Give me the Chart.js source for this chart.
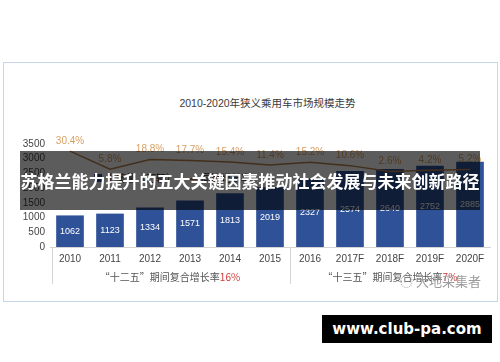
<!DOCTYPE html>
<html>
<head>
<meta charset="utf-8">
<script src="https://cdn.jsdelivr.net/npm/chart.js@4"></script>
<style>
  html, body { margin: 0; padding: 0; background: #fff; }
  body { width: 500px; height: 362px; position: relative; overflow: hidden;
         font-family: 'Liberation Sans', 'Noto Sans CJK SC', sans-serif; }
  #frame { position: absolute; left: 3px; top: 62px; width: 493px; height: 238px;
           border: 1.5px solid #c8d6ea; }
  #wrap { position: absolute; left: 0; top: 0; width: 500px; height: 362px; }
  #titulo { position: absolute; top: 95px; left: 0; width: 535px; text-align: center;
            font-size: 10.5px; color: #3a3a3a; }
  .leyenda { position: absolute; top: 170px; font-size: 10px; color: #333; }
  #banda { position: absolute; left: 20px; top: 151px; width: 460px; height: 59px;
           background: rgba(0,0,0,0.64); color: #fff; font-weight: bold;
           font-family: 'Noto Sans CJK SC', sans-serif; font-size: 17px;
           line-height: 59px; text-align: center; white-space: nowrap; }
  #marca { position: absolute; left: 400px; top: 271px; font-size: 13px; color: #9a9a9a;
           font-family: 'Noto Sans CJK SC', sans-serif; }
  #web { position: absolute; left: 322px; top: 315px; width: 170px; height: 28px;
         background: #000; color: #fff; font-family: 'DejaVu Sans', sans-serif;
         font-weight: bold; font-size: 15px; line-height: 28px; text-align: center; }
</style>
</head>
<body>
<div id="frame"></div>
<div id="titulo">2010-2020年狭义乘用车市场规模走势</div>
<div class="leyenda" style="left:94px"><span style="display:inline-block;width:8px;height:8px;background:#2E5197;margin-right:4px"></span>上牌量（万辆）</div>
<div class="leyenda" style="left:183px"><span style="display:inline-block;width:14px;height:2px;background:#b8804a;vertical-align:middle;margin-right:4px"></span>同比增长率</div>
<div id="wrap"><canvas id="grafica" width="500" height="362"></canvas></div>
<div id="marca">◌ 大地采集者</div>
<div id="banda">苏格兰能力提升的五大关键因素推动社会发展与未来创新路径</div>
<div id="web">www.club-pa.com</div>
<script>
const anios = ["2010", "2011", "2012", "2013", "2014", "2015", "2016", "2017F", "2018F", "2019F", "2020F"];
const placas = [1062, 1123, 1334, 1571, 1813, 2019, 2327, 2574, 2640, 2752, 2885];
const crecimiento = [30.4, 5.8, 18.8, 17.7, 15.4, 11.4, 15.2, 10.6, 2.6, 4.2, 5.2];
const grupos = [
    { texto: "“十二五”期间复合增长率", tasa: "16%" },
    { texto: "“十三五”期间复合增长率", tasa: "7%" }
];

const fuente = "'Liberation Sans', 'Noto Sans CJK SC', sans-serif";

// etiquetas de barras y porcentajes
const etiquetas = {
    id: "etiquetas",
    afterDatasetsDraw(chart) {
        const ctx = chart.ctx;
        ctx.save();
        ctx.textAlign = "center";
        ctx.textBaseline = "middle";
        ctx.font = "9px " + fuente;
        ctx.fillStyle = "#ffffff";
        chart.getDatasetMeta(0).data.forEach((bar, i) => {
            ctx.fillText(placas[i], bar.x, (bar.y + bar.base) / 2);
        });
        ctx.font = "10px " + fuente;
        ctx.fillStyle = "#d9a064";
        chart.getDatasetMeta(1).data.forEach((p, i) => {
            ctx.fillText(crecimiento[i].toFixed(1) + "%", p.x, p.y - 10);
        });
        ctx.restore();
    }
};

// separadores y notas de los periodos
const periodos = {
    id: "periodos",
    afterDraw(chart) {
        const ctx = chart.ctx;
        const x = chart.scales.x;
        const area = chart.chartArea;
        ctx.save();
        ctx.strokeStyle = "#d4d4d4";
        ctx.lineWidth = 1;
        const corte = (x.getPixelForValue(5) + x.getPixelForValue(6)) / 2;
        [area.left + 2, corte].forEach(px => {
            ctx.beginPath();
            ctx.moveTo(Math.round(px) + 0.5, area.bottom);
            ctx.lineTo(Math.round(px) + 0.5, area.bottom + 37);
            ctx.stroke();
        });
        ctx.font = "10px 'Noto Sans CJK SC', sans-serif";
        ctx.textBaseline = "middle";
        grupos.forEach((g, k) => {
            const ini = k === 0 ? area.left : corte;
            const fin = k === 0 ? corte : area.right;
            const cx = (ini + fin) / 2;
            const w1 = ctx.measureText(g.texto).width;
            const w2 = ctx.measureText(g.tasa).width;
            const x0 = cx - (w1 + w2) / 2;
            ctx.textAlign = "left";
            ctx.fillStyle = "#555";
            ctx.fillText(g.texto, x0, area.bottom + 30);
            ctx.fillStyle = "#d23a3a";
            ctx.fillText(g.tasa, x0 + w1, area.bottom + 30);
        });
        ctx.restore();
    }
};

const ctx = document.getElementById("grafica").getContext("2d");
new Chart(ctx, {
    type: "bar",
    data: {
        labels: anios,
        datasets: [
            {
                label: "上牌量（万辆）",
                data: placas,
                backgroundColor: "#2E5197",
                barThickness: 27,
                yAxisID: "y",
                order: 1
            },
            {
                type: "line",
                label: "同比增长率",
                data: crecimiento,
                borderColor: "#b8804a",
                borderWidth: 1.5,
                pointRadius: 0,
                tension: 0,
                fill: false,
                yAxisID: "y2",
                order: 0
            }
        ]
    },
    options: {
        responsive: false,
        animation: false,
        layout: { padding: { top: 144, right: 10, bottom: 95, left: 0 } },
        plugins: {
            legend: { display: false },
            tooltip: { enabled: false },
            title: { display: false }
        },
        scales: {
            x: {
                grid: { display: false, drawTicks: false },
                border: { display: true, color: "#d4d4d4" },
                ticks: { color: "#444", font: { size: 10, family: fuente }, padding: 6 },
                afterFit: (s) => { s.height = 20; }
            },
            y: {
                min: 0,
                max: 3500,
                grid: { display: false, drawTicks: false },
                border: { display: false },
                ticks: {
                    stepSize: 500,
                    autoSkip: false,
                    color: "#444",
                    font: { size: 10, family: fuente },
                    padding: 5,
                    callback: (v) => String(v)
                },
                afterFit: (s) => { s.width = 50; }
            },
            y2: {
                display: false,
                min: -100,
                max: 40
            }
        }
    },
    plugins: [etiquetas, periodos]
});
</script>
</body>
</html>
